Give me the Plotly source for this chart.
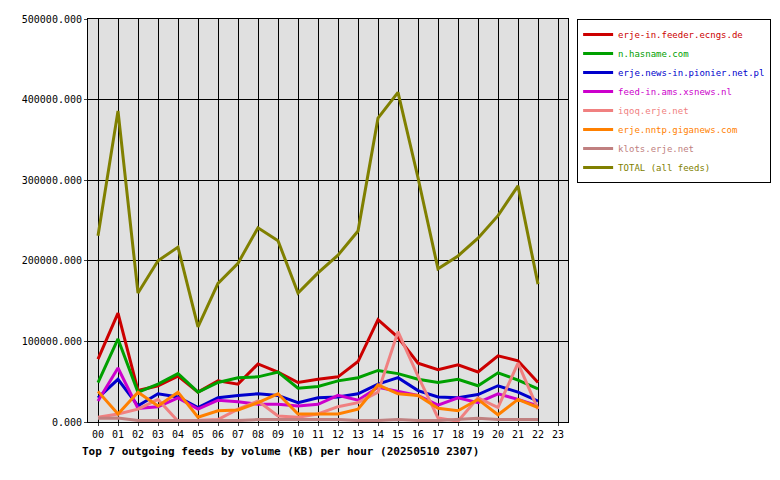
import plotly.graph_objects as go

hours = ["00","01","02","03","04","05","06","07","08","09","10","11","12","13","14","15","16","17","18","19","20","21","22"]
all_hours = hours + ["23"]
names = ["erje-in.feeder.ecngs.de","n.hasname.com","erje.news-in.pionier.net.pl","feed-in.ams.xsnews.nl",
         "iqoq.erje.net","erje.nntp.giganews.com","klots.erje.net","TOTAL (all feeds)"]
colors = ["#cc0000","#00a000","#0000cc","#cc00cc","#f08080","#ff8000","#c08080","#808000"]

ecngs = [78000,135000,39000,45000,57000,37000,51000,47000,72000,62000,49000,53000,56000,75000,127000,105000,73000,65000,71000,62000,82000,76000,49000]
hasname = [49000,103000,37000,47000,60000,37000,49000,55000,56000,62000,42000,44000,51000,55000,64000,60000,53000,49000,53000,45000,61000,52000,41000]
pionier = [30000,53000,20000,35000,31000,18000,30000,33000,35000,33000,24000,30000,31000,35000,47000,55000,39000,31000,30000,34000,45000,37000,26000]
xsnews = [26000,67000,17000,19000,30000,16000,27000,25000,22000,22000,20000,22000,33000,27000,43000,38000,33000,21000,30000,24000,35000,28000,20000]
iqoq = [6000,10000,16000,28000,1000,2000,3000,16000,26000,7500,6000,10000,19000,24000,37000,112000,57000,5000,1000,30000,18000,73000,16000]
giganews = [38000,10000,37000,20000,37000,6000,14000,15000,24000,35000,10000,10000,10000,16000,46000,35000,33000,17000,14000,28000,9000,28000,18000]
klots = [4500,5000,2000,2000,2000,2000,2000,2000,3000,3000,3000,3000,3000,2000,2000,3000,2000,2000,3000,4500,3000,3000,3000]
total = [231000,386000,160000,200000,217000,118000,172000,197000,241000,225000,160000,185000,207000,237000,377000,409000,303000,190000,206000,228000,256000,293000,171000]
series = [ecngs,hasname,pionier,xsnews,iqoq,giganews,klots,total]
yticks = [0,100000,200000,300000,400000,500000]

fig = go.Figure()
for n,c,v in zip(names,colors,series):
    fig.add_trace(go.Scatter(x=list(range(len(hours))), y=v, name=f"<span style='color:{c}'>{n}</span>",
                             mode="lines", line=dict(color=c, width=3)))
font = "DejaVu Sans Mono"
fig.update_layout(
    width=780, height=480, margin=dict(l=80, r=220, t=11, b=66),
    paper_bgcolor="white", plot_bgcolor="#e0e0e0",
    font=dict(family=font, size=10, color="black"),
    showlegend=True,
    legend=dict(x=1.019, y=1, xanchor="left", yanchor="top", bgcolor="white",
                bordercolor="black", borderwidth=1, font=dict(size=9, family=font),
                tracegroupgap=0, itemwidth=30),
    xaxis=dict(range=[-0.5,23.5], tickmode="array", tickvals=list(range(24)), ticktext=all_hours,
               showgrid=True, gridcolor="black", gridwidth=1, zeroline=False, automargin=False,
               showline=True, linecolor="black", mirror=True, ticks="outside", ticklen=3),
    yaxis=dict(range=[0,500000], tickmode="array", tickvals=yticks,
               ticktext=[f"{v}.000" for v in yticks], automargin=False,
               showgrid=True, gridcolor="black", gridwidth=1, zeroline=False,
               showline=True, linecolor="black", mirror=True, ticks="outside", ticklen=3),
    annotations=[dict(text="<b>Top 7 outgoing feeds by volume (KB) per hour (20250510 2307)</b>",
                      x=-0.017, y=-0.053, xref="paper", yref="paper", xanchor="left", yanchor="top",
                      showarrow=False, font=dict(size=11, family=font))],
)
fig.write_html("out.html")
